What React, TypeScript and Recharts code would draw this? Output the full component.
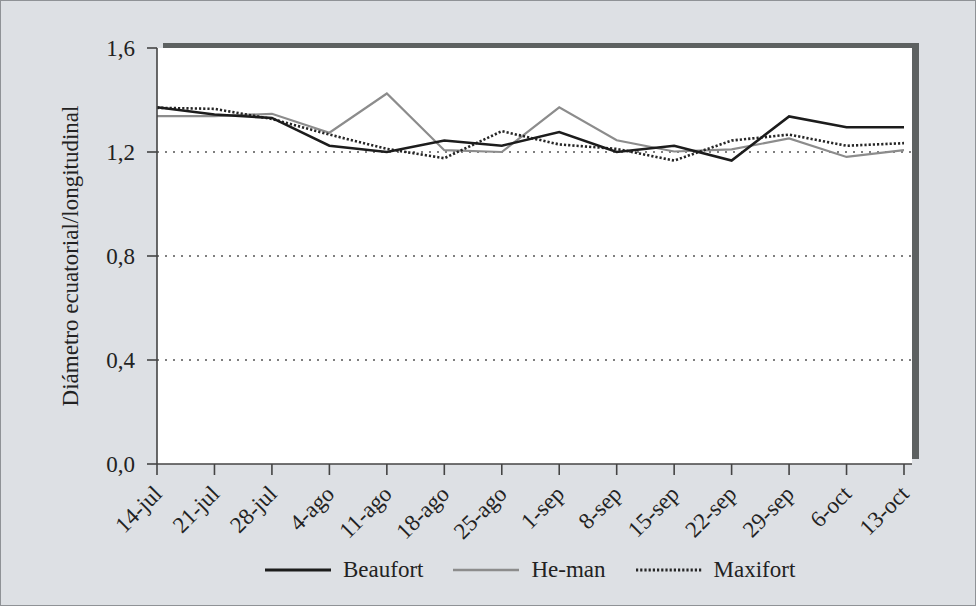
import React from 'react'
import {
  LineChart,
  Line,
  XAxis,
  YAxis,
  CartesianGrid,
  Legend,
} from 'recharts'

// ─── Data ────────────────────────────────────────────────────────────────────

const dates = [
  '14-jul', '21-jul', '28-jul', '4-ago', '11-ago', '18-ago', '25-ago',
  '1-sep', '8-sep', '15-sep', '22-sep', '29-sep', '6-oct', '13-oct',
]

const beaufort = [1.372, 1.344, 1.331, 1.224, 1.2, 1.244, 1.224, 1.277, 1.2, 1.224, 1.167, 1.337, 1.295, 1.295]
const heman = [1.338, 1.338, 1.347, 1.274, 1.425, 1.207, 1.2, 1.372, 1.245, 1.202, 1.21, 1.252, 1.181, 1.207]
const maxifort = [1.37, 1.366, 1.327, 1.267, 1.212, 1.176, 1.28, 1.229, 1.212, 1.167, 1.244, 1.267, 1.224, 1.234]

const yTicks = [0, 0.4, 0.8, 1.2, 1.6]
const gridValues = [0.4, 0.8, 1.2]

const chartData = dates.map((d, i) => ({
  date: d,
  Beaufort: beaufort[i],
  'He-man': heman[i],
  Maxifort: maxifort[i],
}))

// ─── Styles ──────────────────────────────────────────────────────────────────

const FONT = '"Liberation Serif", "DejaVu Serif", serif'
const TEXT = '#222'
const AXIS = '#444'
const BG = '#dde0e4'

const SERIES = [
  { key: 'Beaufort', color: '#1c1c1c', width: 2.6, dash: undefined as string | undefined },
  { key: 'He-man', color: '#8c8c8c', width: 2.2, dash: undefined as string | undefined },
  { key: 'Maxifort', color: '#262626', width: 2.6, dash: '2.2 2' },
]

const fmt = (v: number) => v.toFixed(1).replace('.', ',')

// ─── Pieces ──────────────────────────────────────────────────────────────────

function DateTick({ x, y, payload }: any) {
  return (
    <text
      transform={`translate(${x + 1},${y + 13}) rotate(-45)`}
      textAnchor="end"
      dominantBaseline="central"
      fontFamily={FONT}
      fontSize={23}
      fill={TEXT}
    >
      {payload.value}
    </text>
  )
}

function YLabel() {
  const cx = 70
  const cy = 256
  return (
    <text
      transform={`rotate(-90, ${cx}, ${cy})`}
      x={cx}
      y={cy}
      textAnchor="middle"
      dominantBaseline="central"
      fontFamily={FONT}
      fontSize={23}
      fill={TEXT}
    >
      Diámetro ecuatorial/longitudinal
    </text>
  )
}

function LegendRow() {
  return (
    <div style={{
      display: 'flex',
      alignItems: 'center',
      height: 40,
      paddingLeft: 265,
      fontFamily: FONT,
      fontSize: 23,
      color: TEXT,
    }}>
      {SERIES.map((s, i) => (
        <div key={s.key} style={{ display: 'flex', alignItems: 'center', marginRight: i < 2 ? 30 : 0 }}>
          <svg width={66} height={10} style={{ marginRight: 12 }}>
            <line x1={0} y1={5} x2={66} y2={5} stroke={s.color} strokeWidth={s.width + 0.4} strokeDasharray={s.dash} />
          </svg>
          <span>{s.key}</span>
        </div>
      ))}
    </div>
  )
}

// ─── Main ────────────────────────────────────────────────────────────────────

export default function App() {
  return (
    <div style={{
      position: 'absolute',
      left: 0,
      top: 0,
      width: 976,
      height: 606,
      boxSizing: 'border-box',
      background: BG,
      border: '1px solid #8f9296',
      overflow: 'hidden',
    }}>
      {/* drop shadow behind the plot box */}
      <div style={{
        position: 'absolute',
        left: 162,
        top: 42,
        width: 756,
        height: 416,
        background: '#5d6161',
      }} />
      <div style={{ position: 'absolute', left: -1, top: -1 }}>
        <LineChart
          width={976}
          height={606}
          data={chartData}
          margin={{ top: 48, right: 64, left: 0, bottom: 16 }}
        >
          <CartesianGrid
            vertical={false}
            fill="#ffffff"
            stroke="#555"
            strokeWidth={1.4}
            strokeDasharray="2 6"
            horizontalValues={gridValues}
          />
          <XAxis
            dataKey="date"
            interval={0}
            height={86}
            padding={{ left: 0, right: 8 }}
            tickSize={11}
            tickLine={{ stroke: AXIS, strokeWidth: 1.6 }}
            axisLine={{ stroke: AXIS, strokeWidth: 1.6 }}
            tick={<DateTick />}
          />
          <YAxis
            width={157}
            domain={[0, 1.6]}
            ticks={yTicks}
            interval={0}
            tickSize={10}
            tickMargin={12}
            tickFormatter={fmt}
            tickLine={{ stroke: AXIS, strokeWidth: 1.6 }}
            axisLine={{ stroke: AXIS, strokeWidth: 1.6 }}
            tick={{ fill: TEXT, fontSize: 23, fontFamily: FONT }}
            label={<YLabel />}
          />
          <Line
            dataKey="He-man"
            stroke={SERIES[1].color}
            strokeWidth={SERIES[1].width}
            dot={false}
            isAnimationActive={false}
          />
          <Line
            dataKey="Maxifort"
            stroke={SERIES[2].color}
            strokeWidth={SERIES[2].width}
            strokeDasharray={SERIES[2].dash}
            dot={false}
            isAnimationActive={false}
          />
          <Line
            dataKey="Beaufort"
            stroke={SERIES[0].color}
            strokeWidth={SERIES[0].width}
            dot={false}
            isAnimationActive={false}
          />
          <Legend
            verticalAlign="bottom"
            content={<LegendRow />}
            wrapperStyle={{ left: 0, width: 976, bottom: 16 }}
          />
        </LineChart>
      </div>
    </div>
  )
}
